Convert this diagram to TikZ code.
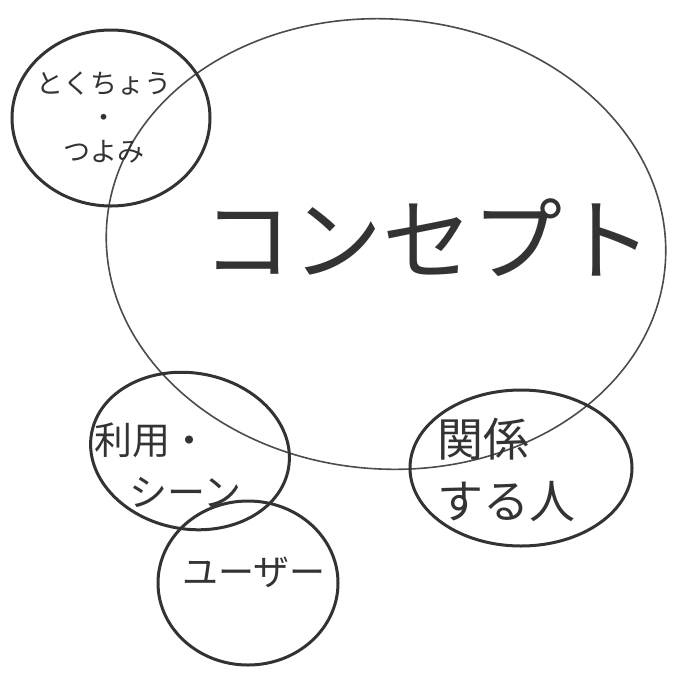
\documentclass[tikz,border=0pt]{standalone}
\usepackage{fontspec}
\newfontfamily\jp{Noto Sans CJK JP}
\usetikzlibrary{shapes.geometric}
\begin{document}
\begin{tikzpicture}[x=1pt,y=-1pt,
  bubble/.style={draw=black!80,line width=3pt,ellipse,inner sep=0pt},
  bigbubble/.style={draw=black!70,line width=1.6pt,ellipse,inner sep=0pt},
  hand/.style={text=black!80,font=\jp,inner sep=0pt}]
\useasboundingbox[fill=white] (0,0) rectangle (685,673);
\node[bigbubble,minimum width=560pt,minimum height=450pt,rotate=-4] (concept) at (386,244) {};
\node[bubble,minimum width=198pt,minimum height=176pt] (feat) at (111,118) {};
\node[bubble,minimum width=200pt,minimum height=156pt,rotate=-10] (scene) at (190,451) {};
\node[bubble,minimum width=222pt,minimum height=156pt] (rel) at (521,468) {};
\node[bubble,minimum width=180pt,minimum height=164pt] (user) at (248,583) {};
\node[hand,font=\jp\fontsize{90}{96}\selectfont] (tconcept) at (427,238) {コンセプト};
\node[hand,align=center,font=\jp\fontsize{27}{34}\selectfont] (tfeat) at (104,117) {とくちょう\\・\\つよみ};
\node[hand,align=left,font=\jp\fontsize{38}{52}\selectfont] (tscene) at (168,465) {利用・\\\hspace{0.9em}シーン};
\node[hand,align=left,font=\jp\fontsize{46}{62}\selectfont] (trel) at (506,470) {関係\\する人};
\node[hand,font=\jp\fontsize{36}{40}\selectfont] (tuser) at (254,572) {ユーザー};
\end{tikzpicture}
\end{document}
